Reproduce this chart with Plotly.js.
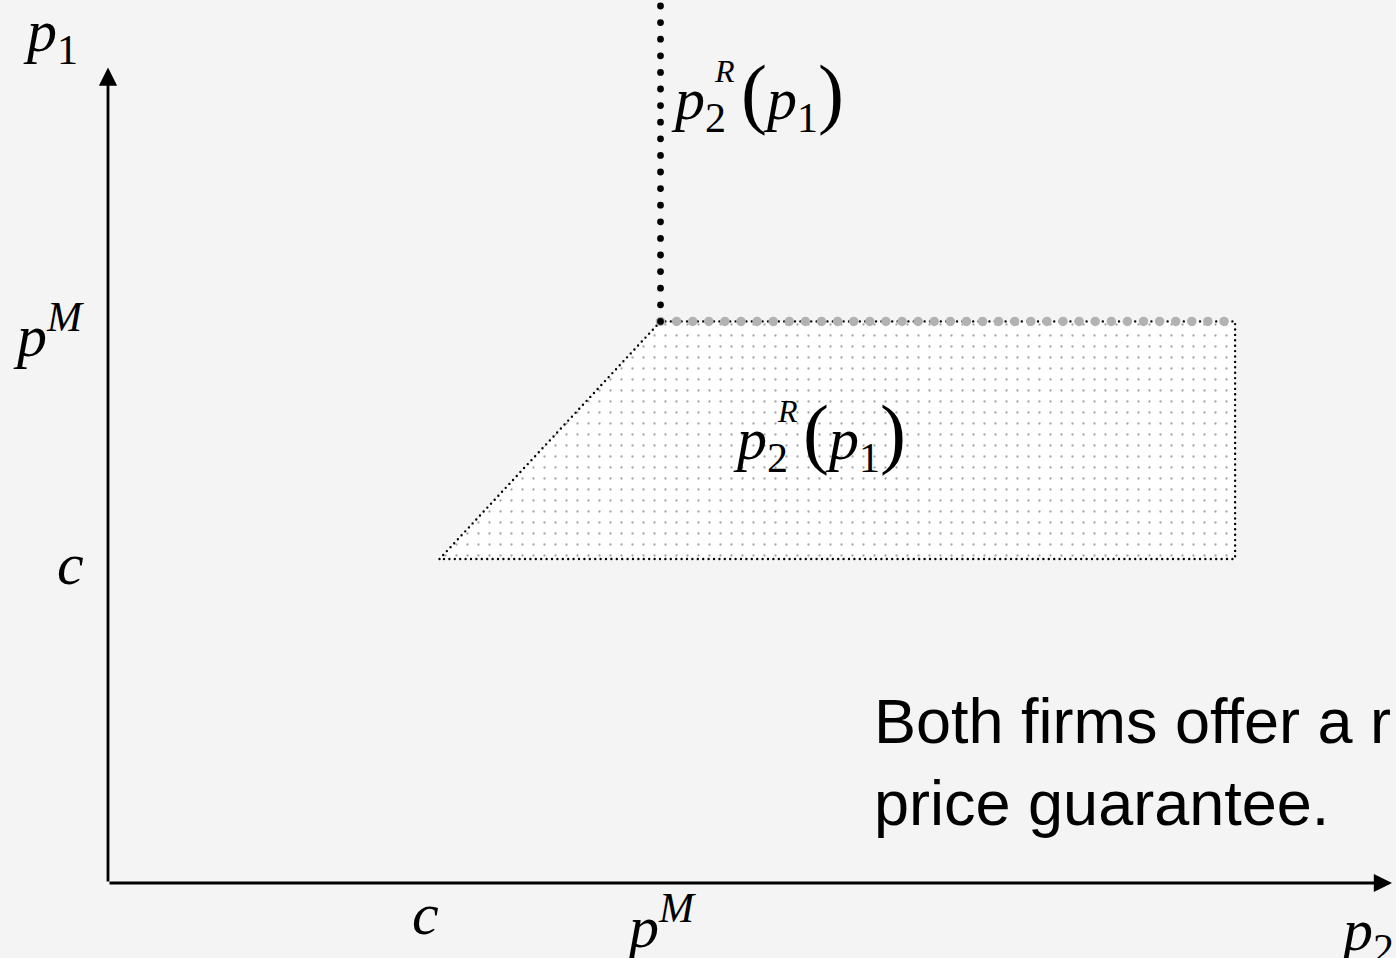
<!DOCTYPE html>
<html><head><meta charset="utf-8">
<script src="https://cdn.plot.ly/plotly-3.0.1.min.js"></script>
<style>
html,body{margin:0;padding:0;background:#f4f4f4;}
#chart{width:1396px;height:958px;}
.js-line{stroke-linecap:round !important;}
</style></head><body><div id="chart"></div>
<script>
// Region of possible equilibria (p2 on x, p1 on y)
const regionP2 = [3, 5, 10.2, 10.2, 3];
const regionP1 = [3, 5.2, 5.2, 3, 3];
// upper edge of region (grey)
const capP2 = [5, 10.2];
const capP1 = [5.2, 5.2];
// reaction function, vertical part
const reactionP2 = [5, 5];
const reactionP1 = [5.2, 8.2];
// axis tips
const axisTipP2 = 11.62;
const axisTipP1 = 7.55;
// tick labels
const xTickVals = [3, 5];
const xTickText = ['<i>c</i>', '<i>p</i><sup><i>M</i></sup>'];
const yTickVals = [3, 5.2];
const yTickText = ['<i>c</i>', '<i>p</i><sup><i>M</i></sup>'];
const noteText = 'Both firms offer a r<br>price guarantee.';

const serif = 'Liberation Serif, Times New Roman, serif';
const mathFont = {family: serif, size: 60, color: '#000'};

const traces = [
  {
    x: regionP2, y: regionP1, type: 'scatter', mode: 'lines',
    fill: 'toself', fillcolor: '#ffffff',
    fillpattern: {shape: '.', bgcolor: '#ffffff', fgcolor: '#a6a6a6', size: 11, solidity: 0.035},
    line: {color: '#000', width: 2.4, dash: '0px,5.4px'},
    hoverinfo: 'skip', showlegend: false
  },
  {
    x: capP2, y: capP1, type: 'scatter', mode: 'lines',
    line: {color: '#b2b2b2', width: 9.5, dash: '0px,16.1px'},
    hoverinfo: 'skip', showlegend: false
  },
  {
    x: reactionP2, y: reactionP1, type: 'scatter', mode: 'lines',
    line: {color: '#000', width: 6.8, dash: '0px,16.6px'},
    hoverinfo: 'skip', showlegend: false
  }
];

const annotations = [];
// axes with arrows
annotations.push({x: axisTipP2, y: 0, ax: 0, ay: 0, xref: 'x', yref: 'y', axref: 'x', ayref: 'y',
  showarrow: true, arrowhead: 2, arrowwidth: 2.8, arrowsize: 1.3, arrowcolor: '#000', text: ''});
annotations.push({x: 0, y: axisTipP1, ax: 0, ay: 0, xref: 'x', yref: 'y', axref: 'x', ayref: 'y',
  showarrow: true, arrowhead: 2, arrowwidth: 2.8, arrowsize: 1.3, arrowcolor: '#000', text: ''});
// tick labels
xTickVals.forEach((v, i) => annotations.push({x: v, y: 0, xref: 'x', yref: 'y', yanchor: 'top',
  xanchor: 'center', yshift: i === 0 ? 4 : 0, xshift: i === 0 ? -14 : 0, text: xTickText[i], showarrow: false, font: mathFont}));
yTickVals.forEach((v, i) => annotations.push({x: 0, y: v, xref: 'x', yref: 'y', xanchor: 'right',
  yanchor: 'middle', xshift: -22, yshift: i === 0 ? -5 : -10, text: yTickText[i], showarrow: false, font: mathFont}));
// axis names
annotations.push({x: 0, y: axisTipP1, xref: 'x', yref: 'y', xanchor: 'right', yanchor: 'bottom',
  xshift: -28, yshift: -7, text: '<i>p</i><sub>1</sub>', showarrow: false, font: mathFont});
annotations.push({x: axisTipP2, y: 0, xref: 'x', yref: 'y', xanchor: 'left', yanchor: 'top',
  xshift: -55, yshift: -12, text: '<i>p</i><sub>2</sub>', showarrow: false, font: mathFont});
// reaction function labels
const rLabel = '<i>p</i><sub>2</sub> <span style="font-size:78px">(</span><i>p</i><sub>1</sub><span style="font-size:78px">)</span>';
const labelSpots = [{x: 5.0, y: 7.3, rx: 5.58, ry: 7.52}, {x: 5.57, y: 4.15, rx: 6.15, ry: 4.37}];
labelSpots.forEach(s => {
  annotations.push({x: s.x, y: s.y, xref: 'x', yref: 'y', xanchor: 'left', yanchor: 'middle', xshift: 8,
    text: rLabel, showarrow: false, font: mathFont});
  annotations.push({x: s.rx, y: s.ry, xref: 'x', yref: 'y', xanchor: 'center', yanchor: 'middle',
    text: '<i>R</i>', showarrow: false, font: {family: serif, size: 32, color: '#000'}});
});
// note
annotations.push({x: 6.91, y: 1.84, xref: 'x', yref: 'y', xanchor: 'left', yanchor: 'top', align: 'left',
  text: noteText, showarrow: false, font: {family: 'Liberation Sans, Arial, sans-serif', size: 63, color: '#000'}});

const layout = {
  width: 1396, height: 958,
  margin: {l: 0, r: 0, t: 0, b: 0},
  paper_bgcolor: '#f4f4f4', plot_bgcolor: '#f4f4f4',
  xaxis: {range: [-0.9774, 11.656], visible: false, fixedrange: true},
  yaxis: {range: [-0.6944, 8.176], visible: false, fixedrange: true},
  annotations: annotations,
  showlegend: false
};
Plotly.newPlot('chart', traces, layout, {displayModeBar: false, staticPlot: true});
</script></body></html>
